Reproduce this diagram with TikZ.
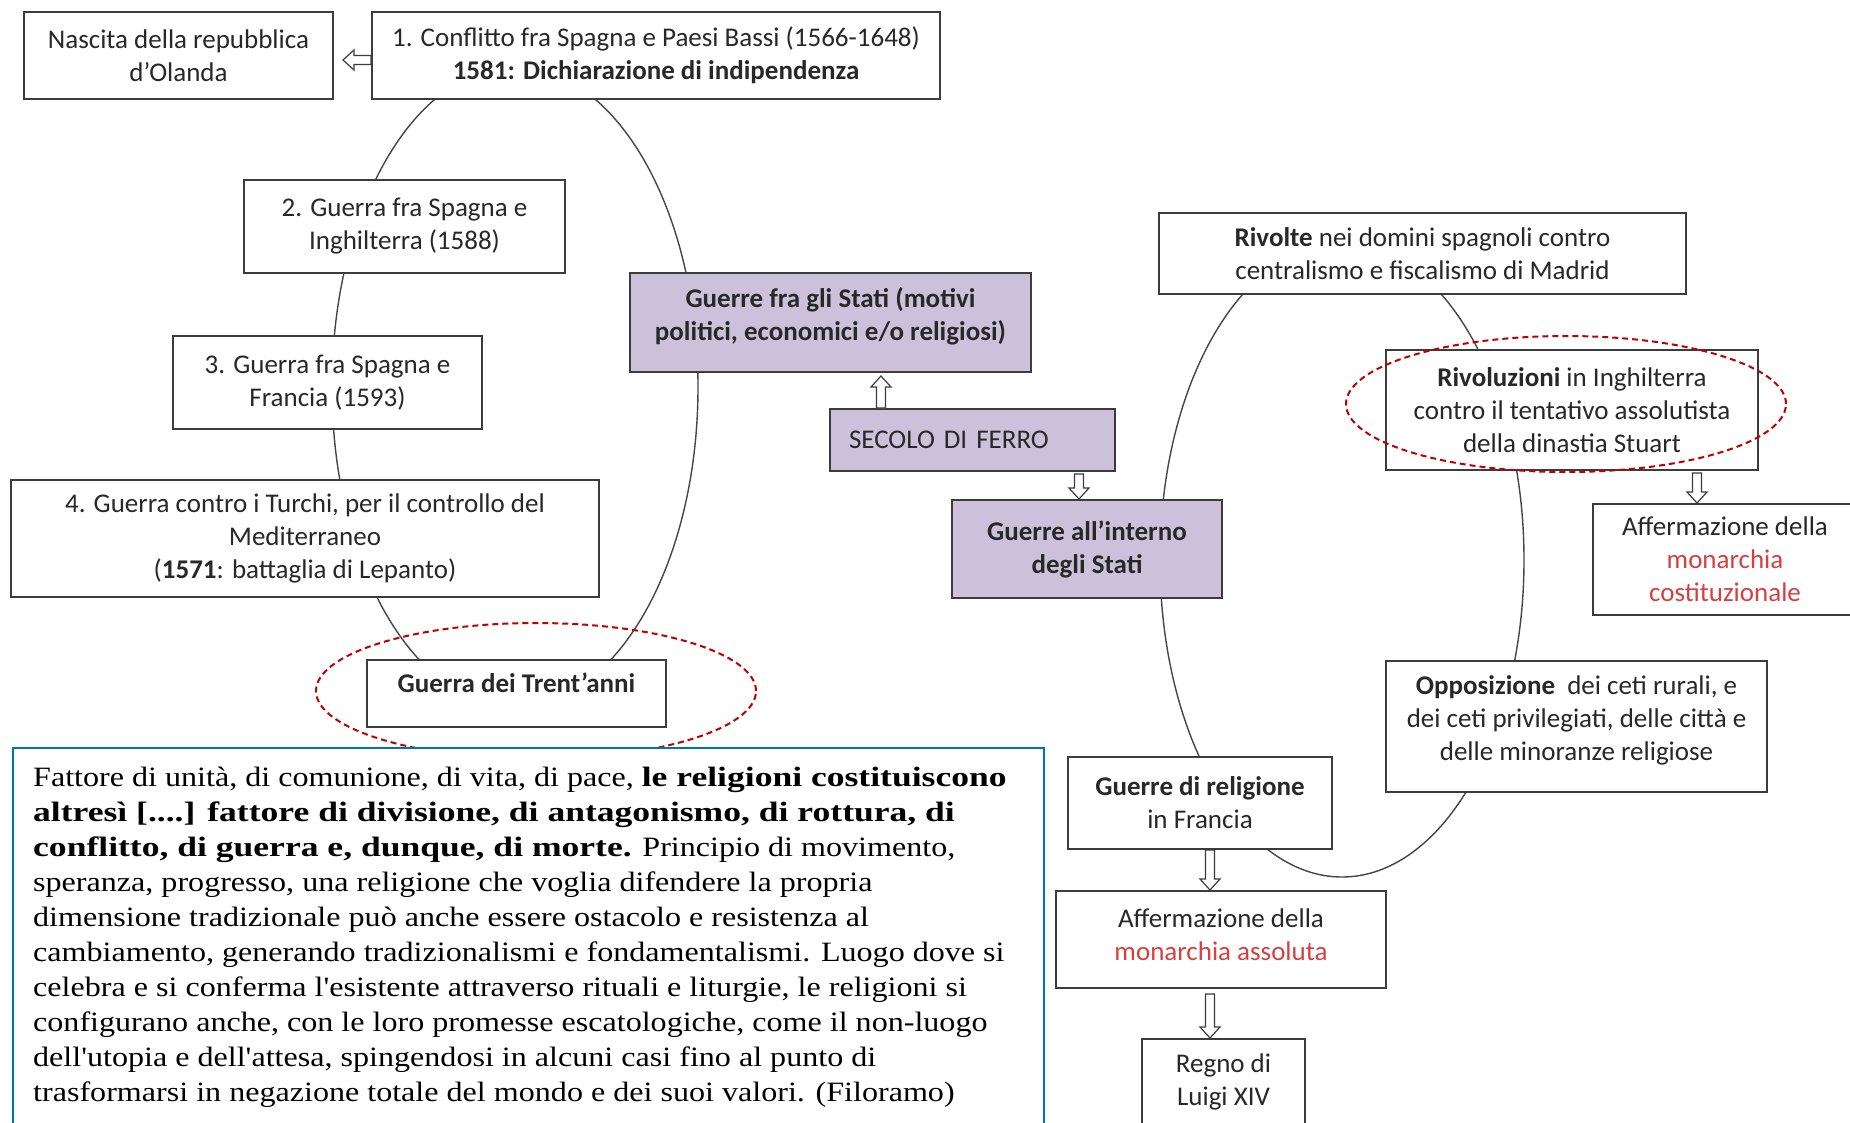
\documentclass[tikz,border=0pt]{standalone}
\usepackage{fontspec}
\setmainfont{Carlito}
\newfontfamily\quotefont{Liberation Serif}[Ligatures=TeXOff,
  UprightFeatures={FakeStretch=1.146}, BoldFeatures={FakeStretch=1.27}]
\usetikzlibrary{calc,shapes.geometric}

\definecolor{boxline}{RGB}{60,60,60}
\definecolor{boxtext}{RGB}{40,40,40}
\definecolor{lilac}{RGB}{204,193,218}
\definecolor{ringred}{RGB}{192,0,0}
\definecolor{hotred}{RGB}{214,64,64}
\definecolor{quoteblue}{RGB}{0,112,192}
\definecolor{arcgrey}{RGB}{70,70,70}

\newcommand\boxfont{\fontsize{27}{33}\selectfont}
\newcommand\hot[1]{{\color{hotred}#1}}

% hollow block arrow from #1 to #2
\newcommand\blockarrow[2]{%
  \coordinate (ba-h) at ($(#2)!11pt!(#1)$);
  \draw[blockarr] ($(#1)!4.5pt!90:(#2)$) -- ($(ba-h)!4.5pt!90:(#2)$)
    -- ($(ba-h)!10pt!90:(#2)$) -- (#2) -- ($(ba-h)!10pt!-90:(#2)$)
    -- ($(ba-h)!4.5pt!-90:(#2)$) -- ($(#1)!4.5pt!-90:(#2)$) -- cycle;}

\begin{document}
\begin{tikzpicture}[x=1pt,y=-1pt,
  box/.style={draw=boxline, line width=2pt, fill=white, inner sep=0pt,
    align=center, font=\boxfont, text=boxtext},
  purplebox/.style={box, fill=lilac},
  arcline/.style={draw=arcgrey, line width=1.4pt},
  redring/.style={draw=ringred, line width=2pt, dash pattern=on 6pt off 4pt,
    ellipse, inner sep=0pt},
  blockarr/.style={draw=boxline, line width=1.2pt, fill=white, line join=miter}]

\useasboundingbox (0,0) rectangle (1850,1122);
\clip (0,0) rectangle (1850,1122);
\fill[white] (0,0) rectangle (1850,1122);

% the two cycles, mostly hidden behind the boxes
\draw[arcline] (515,387) ellipse [x radius=183pt, y radius=320pt];
\draw[arcline] (1342,560) ellipse [x radius=182pt, y radius=317pt];

% left cycle: wars between states
\node[box, minimum width=309pt, minimum height=87pt] (nascita) at (178.5,55.5)
  {Nascita della repubblica\\d’Olanda};
\node[box, minimum width=568pt, minimum height=87pt] (conflitto) at (656,55.5)
  {1. Conflitto fra Spagna e Paesi Bassi (1566-1648)\\\textbf{1581: Dichiarazione di indipendenza}};
\node[box, minimum width=321pt, minimum height=93pt] (inghilterra) at (404.5,226.5)
  {2. Guerra fra Spagna e\\Inghilterra (1588)};
\node[box, minimum width=309pt, minimum height=93pt] (francia) at (327.5,382.5)
  {3. Guerra fra Spagna e\\Francia (1593)};
\node[box, minimum width=588pt, minimum height=117pt] (turchi) at (305,538.5)
  {4. Guerra contro i Turchi, per il controllo del\\Mediterraneo\\(\textbf{1571}: battaglia di Lepanto)};
\node[box, minimum width=299pt, minimum height=67pt, text depth=22pt] (trent) at (516.5,693.5)
  {\textbf{Guerra dei Trent’anni}};

% centre column
\node[purplebox, minimum width=401pt, minimum height=99pt, text depth=18pt] (stati) at (830.5,322.5)
  {\textbf{Guerre fra gli Stati (motivi}\\\textbf{politici, economici e/o religiosi)}};
\node[purplebox, minimum width=285pt, minimum height=62pt, text width=247pt, align=left]
  (secolo) at (972.5,440) {SECOLO DI FERRO};
\node[purplebox, minimum width=270pt, minimum height=98pt] (interni) at (1087,549)
  {\textbf{Guerre all’interno}\\\textbf{degli Stati}};

% right cycle: wars inside the states
\node[box, minimum width=527pt, minimum height=81pt] (rivolte) at (1422.5,253.5)
  {\textbf{Rivolte} nei domini spagnoli contro\\centralismo e fiscalismo di Madrid};
\node[box, minimum width=372pt, minimum height=120pt] (rivoluz) at (1572,410)
  {\textbf{Rivoluzioni} in Inghilterra\\contro il tentativo assolutista\\della dinastia Stuart};
\node[box, minimum width=264pt, minimum height=111pt] (costit) at (1725,559.5)
  {Affermazione della\\\hot{monarchia}\\\hot{costituzionale}};
\node[box, minimum width=381pt, minimum height=131pt, text depth=17pt] (oppos) at (1576.5,726.5)
  {\textbf{Opposizione}~ dei ceti rurali, e\\dei ceti privilegiati, delle città e\\delle minoranze religiose};
\node[box, minimum width=264pt, minimum height=92pt] (religione) at (1200,803)
  {\textbf{Guerre di religione}\\in Francia};
\node[box, minimum width=330pt, minimum height=97pt, text depth=10pt] (assoluta) at (1221,939.5)
  {Affermazione della\\\hot{monarchia assoluta}};
\node[box, minimum width=163pt, minimum height=86pt] (regno) at (1223.5,1082)
  {Regno di\\Luigi XIV};

% hollow arrows
\coordinate (a1s) at ($(conflitto.west)+(0,4.5)$);
\coordinate (a1e) at ($(nascita.east)+(9,4.5)$);
\blockarrow{a1s}{a1e}
\coordinate (a2s) at ($(secolo.north west)+(52,0)$);
\coordinate (a2e) at ($(stati.south west)+(252,3)$);
\blockarrow{a2s}{a2e}
\coordinate (a3s) at ($(secolo.south west)+(250,2)$);
\coordinate (a3e) at ($(interni.north west)+(128,0)$);
\blockarrow{a3s}{a3e}
\coordinate (a4s) at ($(rivoluz.south west)+(312,2)$);
\coordinate (a4e) at ($(costit.north west)+(105,0)$);
\blockarrow{a4s}{a4e}
\coordinate (a5s) at ($(religione.south west)+(143,0)$);
\coordinate (a5e) at ($(assoluta.north west)+(155,0)$);
\blockarrow{a5s}{a5e}
\coordinate (a6s) at ($(assoluta.south west)+(155,5)$);
\coordinate (a6e) at ($(regno.north west)+(69,0)$);
\blockarrow{a6s}{a6e}

% red highlight rings
\node[redring, minimum width=440pt, minimum height=136pt] (ringtrent) at (536,691) {};
\node[redring, minimum width=440pt, minimum height=136pt] (ringrivol) at (1566,404) {};

% quotation
\node[draw=quoteblue, line width=2pt, fill=white, minimum width=1031pt,
  minimum height=390pt, inner sep=0pt] (quotebox) at (528.5,943) {};
\node[anchor=north west, align=left, inner sep=0pt, text=black,
  font=\quotefont\fontsize{28}{35}\selectfont] (quote) at (33,767)
  {Fattore di unità, di comunione, di vita, di pace, \textbf{le religioni costituiscono}\\
   \textbf{altresì [....] fattore di divisione, di antagonismo, di rottura, di}\\
   \textbf{conflitto, di guerra e, dunque, di morte.} Principio di movimento,\\
   speranza, progresso, una religione che voglia difendere la propria\\
   dimensione tradizionale può anche essere ostacolo e resistenza al\\
   cambiamento, generando tradizionalismi e fondamentalismi. Luogo dove si\\
   celebra e si conferma l'esistente attraverso rituali e liturgie, le religioni si\\
   configurano anche, con le loro promesse escatologiche, come il non-luogo\\
   dell'utopia e dell'attesa, spingendosi in alcuni casi fino al punto di\\
   trasformarsi in negazione totale del mondo e dei suoi valori. (Filoramo)};
\end{tikzpicture}
\end{document}
